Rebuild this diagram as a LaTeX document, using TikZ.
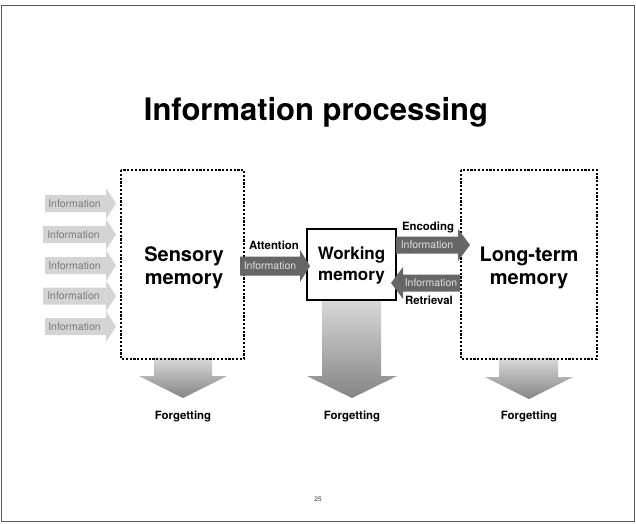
\documentclass[tikz,border=0pt]{standalone}
\usepackage{fontspec}
\setmainfont{TeX Gyre Heros}
\begin{document}
\begin{tikzpicture}[x=1pt,y=-1pt,
  frame/.style={draw=black!65, line width=1pt},
  memdash/.style={draw=black, line width=1.4pt, dash pattern=on 2.2pt off 1.6pt},
  membox/.style={draw=black, line width=1.5pt, fill=white},
  memlabel/.style={align=center, font=\bfseries\fontsize{20}{23}\selectfont, inner sep=0pt},
  lightarrow/.style={fill=black!17},
  darkarrow/.style={fill=black!60},
  lighttext/.style={text=black!52, font=\fontsize{10.5}{12}\selectfont, inner sep=0pt},
  darktext/.style={text=black!12, font=\fontsize{10.5}{12}\selectfont, inner sep=0pt},
  steplabel/.style={font=\bfseries\fontsize{11.4}{13}\selectfont, inner sep=0pt},
  forget/.style={top color=black!15, bottom color=black!48, draw=none}
]
\useasboundingbox (0,0) rectangle (636,523);

% slide frame
\draw[frame] (1.5,5.5) rectangle (634.5,521.5);

% title
\node[font=\bfseries\fontsize{31}{34}\selectfont, inner sep=0pt] (title) at (316,112) {Information processing};

% forgetting arrows (drawn first, below the boxes)
\shade[forget] (154,358) -- (212,358) -- (212,376) -- (227,376) -- (183,398) -- (139,376) -- (154,376) -- cycle;
\shade[forget] (322,300) -- (381,300) -- (381,376) -- (397,376) -- (352,398) -- (307,376) -- (322,376) -- cycle;
\shade[forget] (499,358) -- (558,358) -- (558,377) -- (573,377) -- (529,399) -- (485,377) -- (499,377) -- cycle;

% memory stores
\draw[memdash] (121,170) rectangle (244,359);
\draw[memdash] (461,170) rectangle (597,359);
\draw[membox] (307,229) rectangle (396,300);

\node[memlabel] (sensory) at (184,268) {Sensory\\memory};
\node[memlabel, font=\bfseries\fontsize{17}{21}\selectfont] (working) at (351.5,266) {Working\\memory};
\node[memlabel] (longterm) at (529,268) {Long-term\\memory};

% incoming sensory information
\foreach \yc/\xl [count=\i] in {203.5/45, 234.5/43, 265.5/45, 296/43, 326.5/45} {
  \fill[lightarrow] (\xl,\yc-8.5) -- (106,\yc-8.5) -- (106,\yc-15.5) -- (116,\yc) -- (106,\yc+15.5) -- (106,\yc+8.5) -- (\xl,\yc+8.5) -- cycle;
  \node[lighttext] (info\i) at ({(\xl+104)/2},\yc) {Information};
}

% attention: sensory -> working
\fill[darkarrow] (240,256.5) -- (300,256.5) -- (300,250) -- (310,266) -- (300,282) -- (300,275.5) -- (240,275.5) -- cycle;
\node[darktext] (infoA) at (270,266) {Information};
\node[steplabel, anchor=base] (attention) at (274,249.5) {Attention};

% encoding: working -> long-term
\fill[darkarrow] (396,236.5) -- (458,236.5) -- (458,229) -- (470,245) -- (458,261) -- (458,253.5) -- (396,253.5) -- cycle;
\node[darktext] (infoE) at (427,245) {Information};
\node[steplabel, anchor=base] (encoding) at (428,230.5) {Encoding};

% retrieval: long-term -> working
\fill[darkarrow] (460,274.5) -- (403,274.5) -- (403,267) -- (391,283) -- (403,299) -- (403,291.5) -- (460,291.5) -- cycle;
\node[darktext] (infoR) at (431,283) {Information};
\node[steplabel, anchor=base] (retrieval) at (429,304.5) {Retrieval};

% forgetting labels
\node[steplabel, anchor=base] (forget1) at (183,419) {Forgetting};
\node[steplabel, anchor=base] (forget2) at (352,419) {Forgetting};
\node[steplabel, anchor=base] (forget3) at (529,419) {Forgetting};

% page number
\node[font=\fontsize{6.5}{7}\selectfont, text=black!80, inner sep=0pt] (pagenum) at (318,499) {25};
\end{tikzpicture}
\end{document}
